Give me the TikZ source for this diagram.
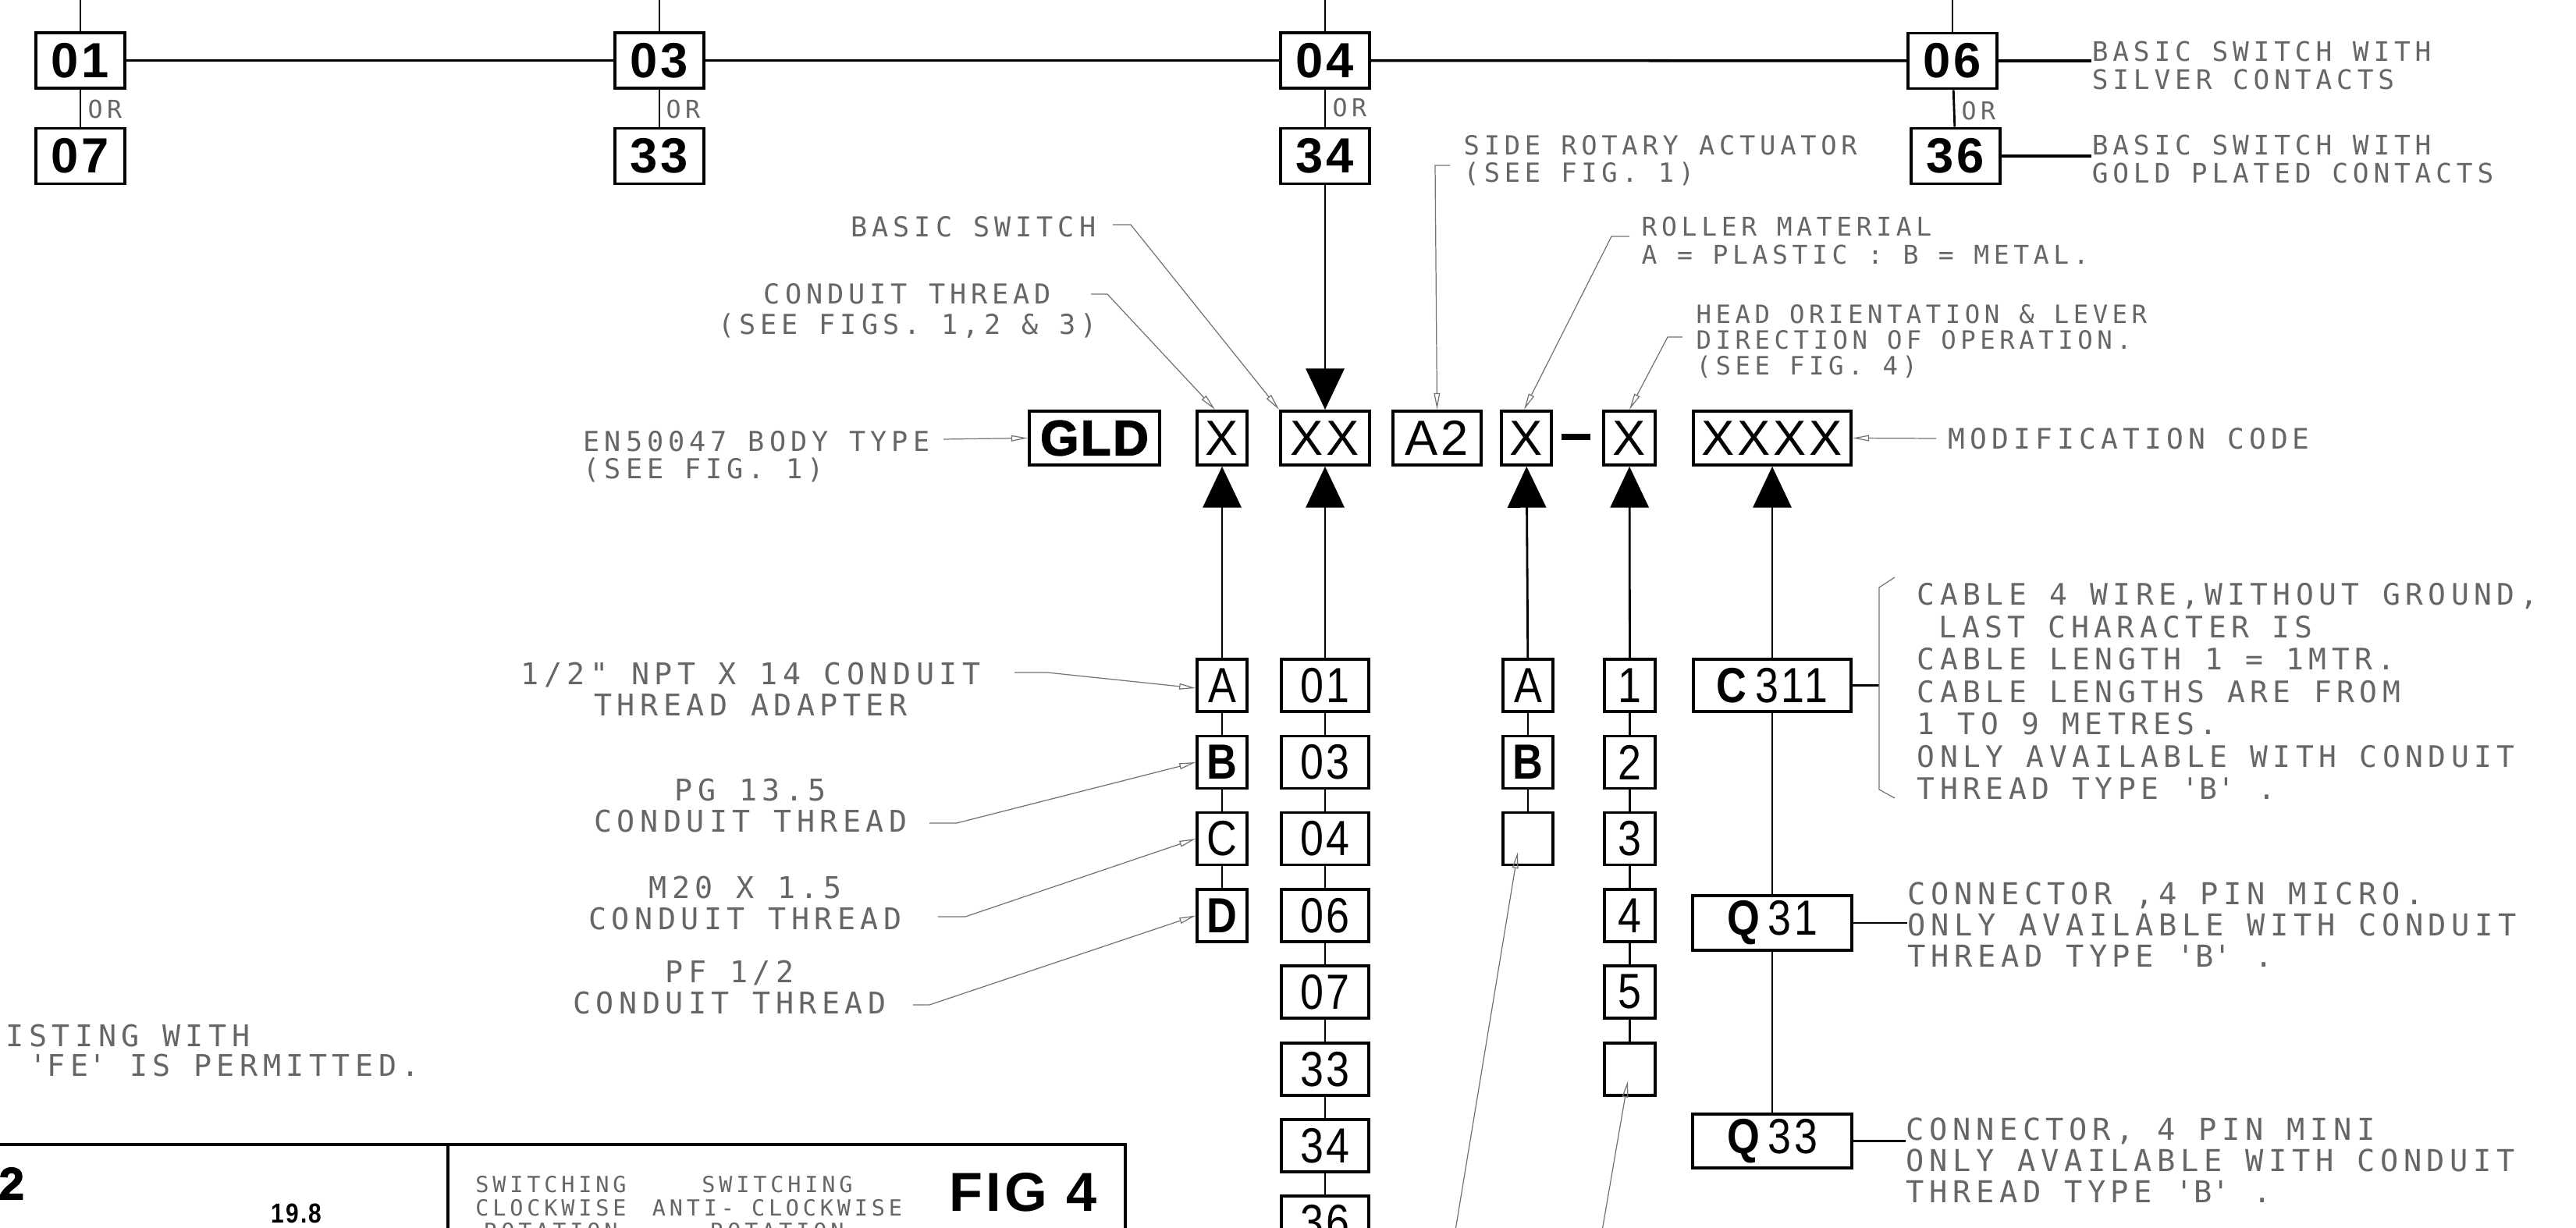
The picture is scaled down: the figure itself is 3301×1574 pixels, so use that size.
\documentclass[tikz,border=0pt]{standalone}
\usepackage{fontspec}
\setmainfont{Liberation Sans}
\newfontfamily\cadfont{DejaVu Sans Mono}[LetterSpace=17]
\newfontfamily\boxfont{Liberation Sans}[LetterSpace=6]
\newfontfamily\narrowfont{Liberation Sans}[FakeStretch=0.85,LetterSpace=6]
\newfontfamily\heavyfont{Liberation Sans}[FakeBold=2.5,LetterSpace=4]
\usetikzlibrary{arrows.meta,positioning}
\newcommand{\cadat}[2]{\cadfont\fontsize{#1}{#2}\selectfont}
\newcommand{\tq}{\textquotesingle}

\begin{document}
\begin{tikzpicture}[
  x=0.01cm, y=-0.01cm,
  link/.style={line width=0.8pt},
  mainline/.style={line width=1pt},
  arrow/.style={line width=0.8pt, -{Triangle[length=15pt, width=14pt]}},
  leader/.style={draw=black!55, line width=0.35pt, -{Triangle[open, length=6pt, width=2.2pt]}},
  bracket/.style={draw=black!55, line width=0.35pt},
  frame/.style={line width=1pt},
  code/.style={rectangle, draw, line width=1.1pt, fill=white, inner sep=0pt,
               font=\boxfont\fontsize{18}{20}\selectfont},
  topcode/.style={code, minimum width=1.14cm, minimum height=0.71cm,
                  font=\boxfont\bfseries\fontsize{18}{20}\selectfont},
  midcode/.style={code, minimum height=0.69cm},
  colcode/.style={code, line width=1pt, minimum height=0.67cm,
                  font=\narrowfont\fontsize{18}{20}\selectfont},
  note/.style={inner sep=0pt, align=left, text=black!60, font=\cadat{10.9}{11.4}},
  orlabel/.style={note, anchor=west, font=\cadat{9}{9}}
]
\useasboundingbox (0,0) rectangle (3301,1574);

% Top row: basic switch choices
\node[topcode] (b01) at (103,77.5) {01};
\node[topcode] (b07) at (103,200) {07};
\node[topcode] (b03) at (845,77.5) {03};
\node[topcode] (b33) at (845,200) {33};
\node[topcode] (b04) at (1698,77.5) {04};
\node[topcode] (b34) at (1698,200) {34};
\node[topcode] (b06) at (2502,78) {06};
\node[topcode] (b36) at (2506,200) {36};

\node[orlabel] (or01) at (112,140) {OR};
\node[orlabel] (or03) at (853,140) {OR};
\node[orlabel] (or04) at (1707,138) {OR};
\node[orlabel] (or06) at (2513,142) {OR};

\node[note, anchor=north west, font=\cadat{9.8}{10.3}] (silver) at (2680,52)
  {BASIC SWITCH WITH\\SILVER CONTACTS};
\node[note, anchor=north west, font=\cadat{9.8}{10.3}] (gold) at (2680,172)
  {BASIC SWITCH WITH\\GOLD PLATED CONTACTS};

% Catalogue number row
\node[midcode, minimum width=1.67cm, font=\heavyfont\bfseries\fontsize{18}{20}\selectfont]
  (gld) at (1402.5,561.5) {GLD};
\node[midcode, minimum width=0.64cm] (xa) at (1566,561.5) {X};
\node[midcode, minimum width=1.14cm] (xx) at (1698,561.5) {XX};
\node[midcode, minimum width=1.13cm] (atwo) at (1841.5,561.5) {A2};
\node[midcode, minimum width=0.64cm] (xr) at (1956,561.5) {X};
\node[fill=black, inner sep=0pt, minimum width=0.37cm, minimum height=0.08cm]
  (dash) at (2019.5,560) {};
\node[midcode, minimum width=0.66cm] (xh) at (2088,561.5) {X};
\node[midcode, minimum width=2.02cm] (xxxx) at (2271,561.5) {XXXX};

% Upper notes
\node[note, anchor=north west, font=\cadat{10}{10}] (body) at (747,552)
  {EN50047 BODY TYPE\\(SEE FIG. 1)};
\node[note, anchor=north east, font=\cadat{10}{11}] (basic) at (1405,277) {BASIC SWITCH};
\node[note, anchor=north, align=center, font=\cadat{10}{11}] (conduit) at (1163,363)
  {CONDUIT THREAD\\(SEE FIGS. 1,2 \& 3)};
\node[note, anchor=north west, font=\cadat{9.6}{9.8}] (side) at (1875,173)
  {SIDE ROTARY ACTUATOR\\(SEE FIG. 1)};
\node[note, anchor=north west, font=\cadat{9.4}{10.2}] (roller) at (2103,277)
  {ROLLER MATERIAL\\A = PLASTIC : B = METAL.};
\node[note, anchor=north west, font=\cadat{9.2}{9.4}] (head) at (2173,390)
  {HEAD ORIENTATION \& LEVER\\DIRECTION OF OPERATION.\\(SEE FIG. 4)};
\node[note, anchor=west, font=\cadat{10.3}{11}] (modcode) at (2496,562) {MODIFICATION CODE};

% Conduit thread column
\node[colcode, minimum width=0.64cm] (ca) at (1566,878.5) {A};
\node[colcode, minimum width=0.64cm] (cb) at (1566,977) {\bfseries B};
\node[colcode, minimum width=0.64cm] (cc) at (1566,1075) {C};
\node[colcode, minimum width=0.64cm] (cd) at (1566,1173.5) {\bfseries D};

% Basic switch column
\node[colcode, minimum width=1.12cm] (s01) at (1698,878.5) {01};
\node[colcode, minimum width=1.12cm] (s03) at (1698,977) {03};
\node[colcode, minimum width=1.12cm] (s04) at (1698,1075) {04};
\node[colcode, minimum width=1.12cm] (s06) at (1698,1173.5) {06};
\node[colcode, minimum width=1.12cm] (s07) at (1698,1271.5) {07};
\node[colcode, minimum width=1.12cm] (s33) at (1698,1370.5) {33};
\node[colcode, minimum width=1.12cm] (s34) at (1698,1468.5) {34};
\node[colcode, minimum width=1.12cm] (s36) at (1698,1566.5) {36};

% Roller material column
\node[colcode, minimum width=0.64cm] (ra) at (1958,878.5) {A};
\node[colcode, minimum width=0.64cm] (rb) at (1958,977) {\bfseries B};
\node[colcode, minimum width=0.64cm] (rc) at (1958,1075) {};

% Head orientation column
\node[colcode, minimum width=0.65cm] (h1) at (2088.5,878.5) {1};
\node[colcode, minimum width=0.65cm] (h2) at (2088.5,977) {2};
\node[colcode, minimum width=0.65cm] (h3) at (2088.5,1075) {3};
\node[colcode, minimum width=0.65cm] (h4) at (2088.5,1173.5) {4};
\node[colcode, minimum width=0.65cm] (h5) at (2088.5,1271.5) {5};
\node[colcode, minimum width=0.65cm] (h6) at (2088.5,1370.5) {};

% Modification column
\node[colcode, minimum width=2.02cm] (c311) at (2271,878.5) {{\bfseries C}\,311};
\node[colcode, minimum width=2.04cm, minimum height=0.70cm] (q31) at (2271,1183) {{\bfseries Q}\,31};
\node[colcode, minimum width=2.04cm, minimum height=0.69cm] (q33) at (2271,1462.5) {{\bfseries Q}\,33};

% Lower notes
\node[note, anchor=north, align=center] (npt) at (962,848)
  {1/2" NPT X 14 CONDUIT\\THREAD ADAPTER};
\node[note, anchor=north, align=center] (pg) at (962,997)
  {PG 13.5\\CONDUIT THREAD};
\node[note, anchor=north, align=center] (mtwenty) at (955,1122)
  {M20 X 1.5\\CONDUIT THREAD};
\node[note, anchor=north, align=center] (pf) at (935,1230)
  {PF 1/2\\CONDUIT THREAD};
\node[note, anchor=north west, font=\cadat{10.8}{11.8}] (cable) at (2456,747)
  {CABLE 4 WIRE,WITHOUT GROUND,\\\hspace*{0.28cm}LAST CHARACTER IS\\CABLE LENGTH 1 = 1MTR.\\
   CABLE LENGTHS ARE FROM\\1 TO 9 METRES.\\ONLY AVAILABLE WITH CONDUIT\\THREAD TYPE \tq B\tq\ .};
\node[note, anchor=north west, font=\cadat{11}{11.4}] (micro) at (2444,1130)
  {CONNECTOR ,4 PIN MICRO.\\ONLY AVAILABLE WITH CONDUIT\\THREAD TYPE \tq B\tq\ .};
\node[note, anchor=north west, font=\cadat{11}{11.4}] (mini) at (2442,1432)
  {CONNECTOR, 4 PIN MINI\\ONLY AVAILABLE WITH CONDUIT\\THREAD TYPE \tq B\tq\ .};
\node[note, anchor=north west, font=\cadat{10.9}{10.8}] (existing) at (7,1312)
  {ISTING WITH\\\hspace*{0.3cm}\tq FE\tq\ IS PERMITTED.};

% Title block
\draw[frame] (-10,1467) -- (1442,1467) -- (1442,1600);
\draw[frame] (574,1467) -- (574,1600);
\node[anchor=west, inner sep=0pt, font=\heavyfont\bfseries\fontsize{16.5}{16.5}\selectfont]
  (sheetno) at (-2,1517) {2};
\node[anchor=north west, inner sep=0pt, font=\narrowfont\bfseries\fontsize{10}{10}\selectfont]
  (dimval) at (347,1542) {19.8};
\node[note, anchor=north, align=center, font=\cadat{8.1}{8.5}] (cw) at (706,1507)
  {SWITCHING\\CLOCKWISE\\ROTATION};
\node[note, anchor=north, align=center, font=\cadat{8.1}{8.5}] (acw) at (996,1507)
  {SWITCHING\\ANTI- CLOCKWISE\\ROTATION};
\node[anchor=north west, inner sep=0pt, font=\boxfont\bfseries\fontsize{20}{20}\selectfont]
  (figno) at (1216,1503) {FIG 4};

% Coordinates
\coordinate (t01) at (103,-5);
\coordinate (t03) at (845,-5);
\coordinate (t04) at (1698,-5);
\coordinate (t06) at (2502,-5);
\coordinate (bodytail) at (1209,563);
\coordinate (basicdash) at (1426,288);
\coordinate (conduitdash) at (1398,377);
\coordinate (sidetick) at (1858,212);
\coordinate (rollertick) at (2088,303);
\coordinate (headtick) at (2156,432);
\coordinate (modtail) at (2481,562);
\coordinate (npttick) at (1300,862);
\coordinate (pgtick) at (1191,1055);
\coordinate (mtwentytick) at (1202,1175);
\coordinate (pftick) at (1170,1288);
\coordinate (brtop) at (2428,740);
\coordinate (brup) at (2408,753);
\coordinate (brlow) at (2408,1012);
\coordinate (brbot) at (2428,1023);
\coordinate (rollerfoot) at (1862,1595);
\coordinate (headfoot) at (2050,1595);

% Top connections
\draw[link] (t01) -- (b01);
\draw[link] (t03) -- (b03);
\draw[link] (t04) -- (b04);
\draw[link] (t06) -- (b06);
\draw[mainline] (b01) -- (b03);
\draw[mainline] (b03) -- (b04);
\draw[mainline] (b04) -- (b06);
\draw[link] (b01) -- (b07);
\draw[link] (b03) -- (b33);
\draw[link] (b04) -- (b34);
\draw[link] (b06) -- (b36);
\draw[mainline] (b06.east) -- (b06.east -| silver.west);
\draw[mainline] (b36.east) -- (b36.east -| gold.west);
\draw[arrow] (b34) -- (xx);

% Column connections
\draw[arrow] (ca) -- (xa);
\draw[link] (ca) -- (cb);
\draw[link] (cb) -- (cc);
\draw[link] (cc) -- (cd);

\draw[arrow] (s01) -- (xx);
\draw[link] (s01) -- (s03);
\draw[link] (s03) -- (s04);
\draw[link] (s04) -- (s06);
\draw[link] (s06) -- (s07);
\draw[link] (s07) -- (s33);
\draw[link] (s33) -- (s34);
\draw[link] (s34) -- (s36);

\draw[arrow] (ra) -- (xr);
\draw[link] (ra) -- (rb);
\draw[link] (rb) -- (rc);

\draw[arrow] (h1) -- (xh);
\draw[link] (h1) -- (h2);
\draw[link] (h2) -- (h3);
\draw[link] (h3) -- (h4);
\draw[link] (h4) -- (h5);
\draw[link] (h5) -- (h6);

\draw[arrow] (c311) -- (xxxx);
\draw[link] (c311) -- (q31);
\draw[link] (q31) -- (q33);
\draw[link] (c311.east) -- (c311.east -| brup);
\draw[link] (q31.east) -- (q31.east -| micro.west);
\draw[link] (q33.east) -- (q33.east -| mini.west);
\draw[bracket] (brtop) -- (brup) -- (brlow) -- (brbot);

% Leaders
\draw[leader] (bodytail) -- (gld.west);
\draw[leader] (basicdash) -- ++(23,0) -- (xx.north west);
\draw[leader] (conduitdash) -- ++(21,0) -- ([xshift=-0.09cm]xa.north);
\draw[leader] (sidetick) -- ++(-19,0) -- (atwo.north);
\draw[leader] (rollertick) -- ++(-23,0) -- ([xshift=-0.03cm]xr.north);
\draw[leader] (headtick) -- ++(-19,0) -- (xh.north);
\draw[leader] (modtail) -- (xxxx.east);
\draw[leader] (npttick) -- ++(42,0) -- ([yshift=-0.035cm]ca.west);
\draw[leader] (pgtick) -- ++(35,0) -- (cb.west);
\draw[leader] (mtwentytick) -- ++(35,0) -- (cc.west);
\draw[leader] (pftick) -- ++(21,0) -- (cd.west);
\draw[leader] (rollerfoot) -- ([xshift=-0.13cm,yshift=-0.17cm]rc.center);
\draw[leader] (headfoot) -- ([xshift=-0.025cm,yshift=-0.15cm]h6.center);

\end{tikzpicture}
\end{document}
